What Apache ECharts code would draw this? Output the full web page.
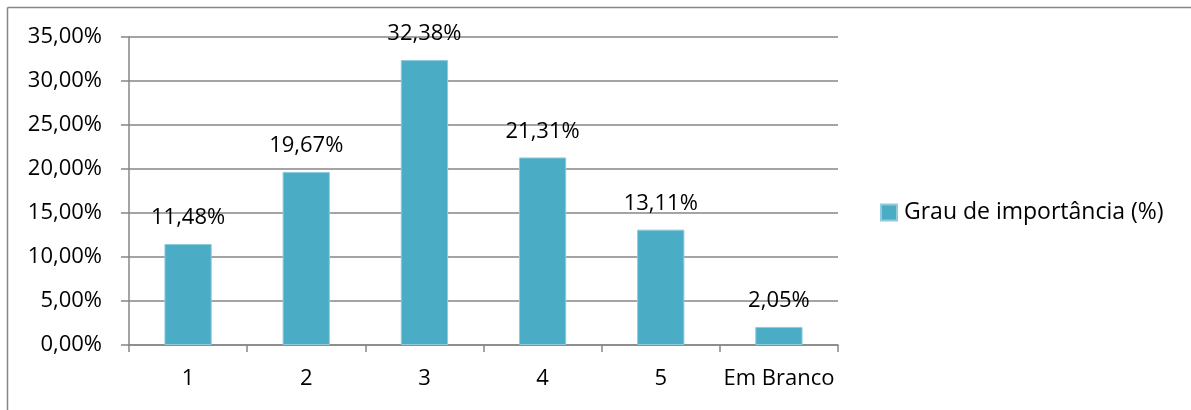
<!DOCTYPE html>
<html>
<head>
<meta charset="utf-8">
<script src="https://cdn.jsdelivr.net/npm/echarts@6/dist/echarts.min.js"></script>
<style>
  html, body { margin: 0; padding: 0; background: #fff; }
  #chart { width: 1191px; height: 410px; }
</style>
</head>
<body>
<div id="chart"></div>
<script>
const categories = ['1', '2', '3', '4', '5', 'Em Branco'];
const values = [11.48, 19.67, 32.38, 21.31, 13.11, 2.05];
const seriesName = 'Grau de importância (%)';

const FONT = 'Open Sans';
const fmt = v => v.toFixed(2).replace('.', ',') + '%';

const chart = echarts.init(document.getElementById('chart'), null, { renderer: 'canvas' });
chart.setOption({
  animation: false,
  backgroundColor: '#fff',
  textStyle: { fontFamily: FONT },
  graphic: [
    { type: 'line', shape: { x1: 7.5, y1: 7.5, x2: 1191, y2: 7.5 }, style: { stroke: '#868686', lineWidth: 1.5 } },
    { type: 'line', shape: { x1: 7.5, y1: 7.5, x2: 7.5, y2: 410 }, style: { stroke: '#868686', lineWidth: 1.5 } }
  ],
  legend: {
    left: 880, top: 201, padding: 0,
    itemWidth: 16, itemHeight: 16, itemGap: 10,
    icon: 'rect',
    textStyle: { fontFamily: FONT, fontSize: 23, color: '#000', padding: [0, 0, 0, 2] },
    data: [seriesName]
  },
  grid: { left: 129, right: 353, top: 37, bottom: 65 },
  xAxis: {
    type: 'category',
    data: categories,
    boundaryGap: true,
    axisLine: { lineStyle: { color: '#868686', width: 1.5 } },
    axisTick: { show: true, length: 7, lineStyle: { color: '#868686', width: 1.5 } },
    axisLabel: { interval: 0, color: '#000', fontFamily: FONT, fontSize: 22, margin: 23 }
  },
  yAxis: {
    type: 'value',
    min: 0, max: 35, interval: 5,
    axisLine: { show: true, lineStyle: { color: '#868686', width: 1.5 } },
    axisTick: { show: true, length: 8, lineStyle: { color: '#868686', width: 1.5 } },
    splitLine: { lineStyle: { color: '#868686', width: 1.5 } },
    axisLabel: { color: '#000', fontFamily: FONT, fontSize: 22, margin: 27, formatter: fmt }
  },
  series: [{
    name: seriesName,
    type: 'bar',
    data: values,
    barWidth: '40%',
    itemStyle: { color: '#4BACC6', borderColor: '#8fcbdb', borderWidth: 1 },
    label: {
      show: true, position: 'top', distance: 15,
      color: '#000', fontFamily: FONT, fontSize: 22,
      formatter: p => fmt(p.value)
    }
  }]
});
</script>
</body>
</html>
